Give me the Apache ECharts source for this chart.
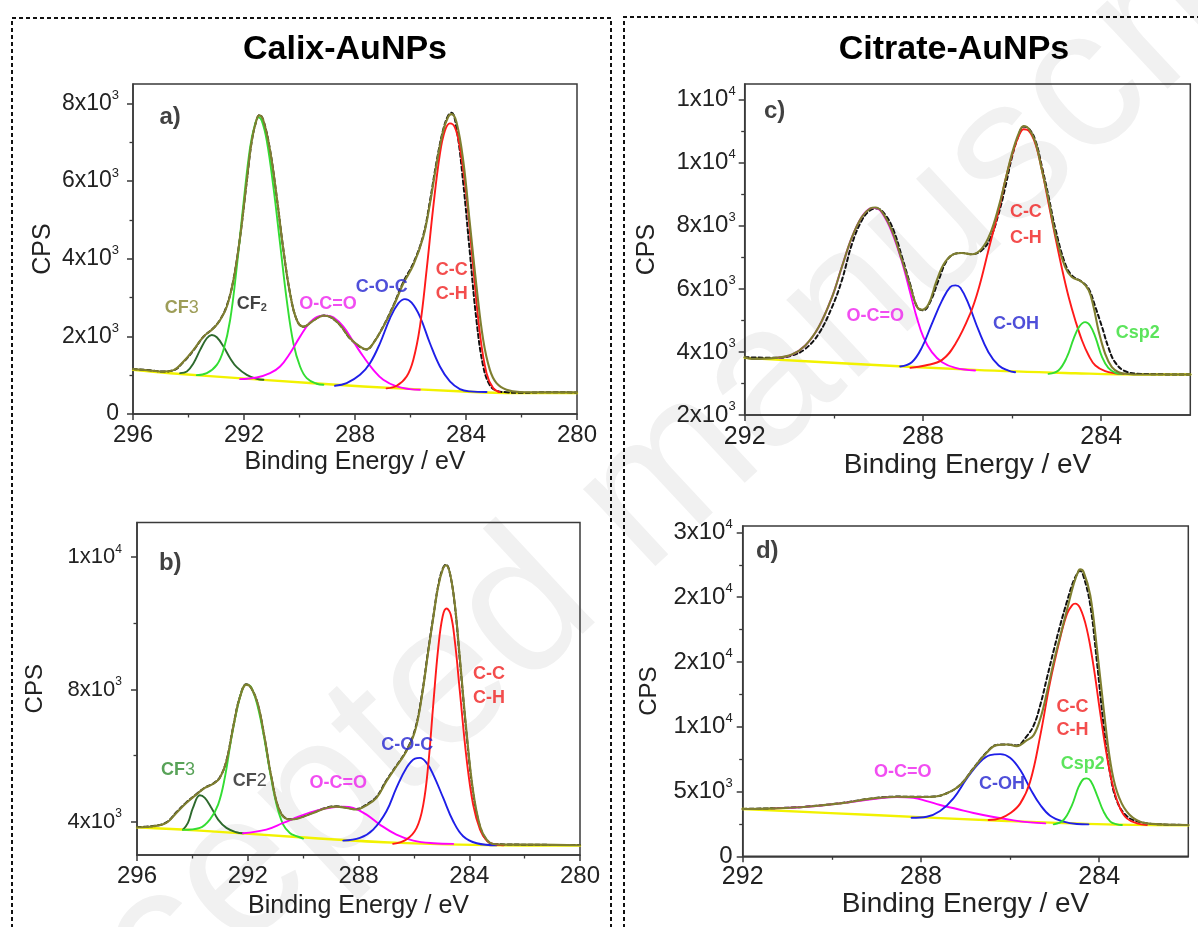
<!DOCTYPE html>
<html><head><meta charset="utf-8">
<script src="https://cdn.jsdelivr.net/npm/echarts@6/dist/echarts.min.js"></script>
<style>html,body{margin:0;padding:0;background:#fff}#c{width:1198px;height:927px}</style>
</head><body><div id="c"></div>
<script>
// ================= DATA =================
// ---- Panel a) Calix-AuNPs ----
const aBackground = [[296,1140],[294.66,1050],[291.3,880],[287.7,710],[284.1,580],[282.3,540],[280,540]];
const aEnvelope = [[296,1155],[295.38,1121],[294.9,1095],[294.54,1130],[294.18,1352],[293.82,1651],[293.46,1993],[293.1,2207],[292.86,2421],[292.62,2763],[292.38,3448],[292.14,4560],[291.9,6014],[291.72,7041],[291.54,7597],[291.44,7691],[291.3,7554],[291.06,6784],[290.82,5586],[290.58,4218],[290.34,3105],[290.1,2421],[289.86,2250],[289.5,2404],[289.14,2532],[288.9,2507],[288.54,2293],[288.18,1951],[287.82,1737],[287.58,1668],[287.34,1822],[286.98,2250],[286.62,2763],[286.26,3362],[285.9,3833],[285.54,4560],[285.3,5415],[285.06,6442],[284.82,7297],[284.64,7657],[284.52,7725],[284.34,7511],[284.1,6527],[283.86,4902],[283.62,3277],[283.38,1908],[283.14,1138],[282.9,796],[282.54,625],[282.06,565],[281.1,556],[280,556]];
const aRaw = [[296,1160],[295.38,1125],[294.9,1095],[294.54,1125],[294.18,1340],[293.82,1640],[293.46,1990],[293.1,2215],[292.86,2430],[292.62,2790],[292.38,3460],[292.14,4570],[291.9,6000],[291.72,7030],[291.54,7590],[291.44,7700],[291.3,7560],[291.06,6790],[290.82,5580],[290.58,4230],[290.34,3110],[290.1,2430],[289.86,2245],[289.5,2410],[289.14,2540],[288.9,2500],[288.54,2290],[288.18,1945],[287.82,1730],[287.58,1660],[287.34,1830],[286.98,2260],[286.62,2790],[286.26,3400],[285.9,3880],[285.54,4600],[285.3,5480],[285.06,6500],[284.82,7330],[284.64,7690],[284.52,7760],[284.34,7350],[284.1,5950],[283.86,4150],[283.62,2400],[283.38,1230],[283.14,740],[282.9,600],[282.54,560],[282.06,545],[281.1,560],[280,555]];
const aCF3 = [[294.3,1052],[294.06,1095],[293.82,1309],[293.58,1651],[293.34,1951],[293.16,2036],[292.98,1976],[292.74,1737],[292.5,1437],[292.26,1206],[291.9,1009],[291.54,907],[291.3,881]];
const aCF2 = [[293.7,1001],[293.34,1052],[292.98,1266],[292.74,1651],[292.5,2421],[292.26,3790],[292.02,5415],[291.78,6870],[291.6,7469],[291.48,7640],[291.36,7554],[291.18,7041],[290.94,5843],[290.7,4389],[290.46,2934],[290.22,1822],[289.98,1223],[289.74,924],[289.38,779],[289.14,753]];
const aOCO = [[292.14,898],[291.54,941],[291.06,1052],[290.7,1223],[290.34,1566],[289.98,1993],[289.62,2361],[289.26,2524],[289.02,2532],[288.78,2490],[288.42,2250],[288.06,1865],[287.7,1480],[287.34,1138],[286.98,881],[286.5,710],[286.02,642],[285.66,625]];
const aCOC = [[288.72,727],[288.3,796],[287.82,1009],[287.46,1309],[287.1,1822],[286.74,2464],[286.44,2849],[286.2,2960],[285.96,2866],[285.66,2507],[285.3,1822],[284.94,1223],[284.58,838],[284.22,642],[283.86,582],[283.26,565]];
const aCC = [[286.86,659],[286.5,727],[286.14,967],[285.9,1394],[285.66,2250],[285.42,3704],[285.18,5330],[284.94,6699],[284.76,7297],[284.58,7486],[284.4,7383],[284.22,6870],[283.98,5586],[283.74,3790],[283.5,2079],[283.26,1052],[283.02,667],[282.78,565]];
const aXTicks = [296,292,288,284,280];
const aXTickLabels = ['296','292','288','284','280'];
const aXMinor = [294,290,286,282];
const aYTicks = [0,2000,4000,6000,8000];
const aYTickLabels = ['0','2x10{s|3}','4x10{s|3}','6x10{s|3}','8x10{s|3}'];
const aYMinor = [1000,3000,5000,7000];
const aNotes = [[294.66,7639,'a)'],[294.24,2728,'CF{sub|3}'],[291.72,2831,'CF{sub2|2}'],[288.97,2839,'O-C=O'],[287.04,3267,'C-O-C'],[284.51,3711,'C-C'],[284.51,3095,'C-H']];

// ---- Panel b) Calix-AuNPs ----
const bBackground = [[296,3839],[293.73,3738],[290.12,3537],[286.51,3365],[282.89,3295],[280,3285]];
const bEnvelope = [[296,3839],[295.42,3869],[294.94,3970],[294.58,4272],[294.22,4574],[293.86,4826],[293.55,5028],[293.25,5149],[293.01,5330],[292.77,5834],[292.53,6841],[292.29,7748],[292.05,8151],[291.87,8050],[291.63,7547],[291.39,6539],[291.14,5330],[290.84,4322],[290.48,4071],[290.12,4121],[289.64,4272],[289.16,4423],[288.8,4463],[288.43,4423],[288.07,4373],[287.71,4504],[287.35,4725],[286.99,5229],[286.63,5683],[286.27,6136],[285.96,6741],[285.72,7748],[285.48,9159],[285.3,10167],[285.12,11124],[284.96,11628],[284.84,11759],[284.7,11527],[284.52,10570],[284.34,8957],[284.1,6741],[283.86,4927],[283.61,3869],[283.37,3466],[283.13,3335],[282.65,3315],[281.69,3315],[280,3295]];
const bRaw = [[296,3845],[295.42,3875],[294.94,3985],[294.58,4290],[294.22,4590],[293.86,4835],[293.55,5035],[293.25,5160],[293.01,5345],[292.77,5850],[292.53,6860],[292.29,7760],[292.05,8160],[291.87,8040],[291.63,7530],[291.39,6520],[291.14,5320],[290.84,4330],[290.48,4080],[290.12,4130],[289.64,4280],[289.16,4430],[288.8,4470],[288.43,4430],[288.07,4390],[287.71,4530],[287.35,4760],[286.99,5260],[286.63,5700],[286.27,6160],[285.96,6790],[285.72,7800],[285.48,9200],[285.3,10200],[285.12,11150],[284.96,11650],[284.84,11780],[284.7,11520],[284.52,10540],[284.34,8900],[284.1,6680],[283.86,4880],[283.61,3850],[283.37,3450],[283.13,3330],[282.65,3320],[281.69,3310],[280,3300]];
const bCF3 = [[294.34,3768],[294.16,3970],[293.98,4423],[293.73,4806],[293.55,4725],[293.31,4423],[293.07,4071],[292.77,3819],[292.41,3688],[292.17,3657]];
const bCF2 = [[294.34,3758],[293.73,3819],[293.37,4071],[293.07,4524],[292.83,5330],[292.59,6539],[292.35,7547],[292.17,8050],[292.05,8151],[291.9,8101],[291.69,7647],[291.45,6741],[291.2,5532],[290.96,4524],[290.72,3919],[290.48,3667],[290.24,3567],[290,3496]];
const bOCO = [[292.17,3657],[291.33,3768],[290.72,3970],[290.12,4171],[289.52,4343],[288.92,4443],[288.55,4463],[288.19,4423],[287.71,4222],[287.23,3919],[286.63,3617],[286.02,3436],[285.3,3355],[284.58,3335]];
const bCOC = [[288.55,3436],[287.95,3516],[287.47,3768],[286.99,4322],[286.63,5028],[286.27,5632],[285.96,5914],[285.78,5935],[285.54,5783],[285.3,5431],[284.94,4725],[284.58,4020],[284.22,3567],[283.73,3355],[283.01,3295]];
const bCC = [[286.75,3335],[286.27,3466],[285.9,3819],[285.66,4524],[285.48,5733],[285.3,7547],[285.12,9260],[284.96,10217],[284.82,10449],[284.67,10267],[284.52,9461],[284.34,7950],[284.1,5935],[283.86,4524],[283.61,3768],[283.37,3436],[283.13,3335],[282.77,3295]];
const bXTicks = [296,292,288,284,280];
const bXTickLabels = ['296','292','288','284','280'];
const bXMinor = [294,290,286,282];
const bYTicks = [4000,8000,12000];
const bYTickLabels = ['4x10{s|3}','8x10{s|3}','1x10{s|4}'];
const bYMinor = [6000,10000];
const bNotes = [[294.8,11809,'b)'],[294.52,5562,'CF{sub|3}'],[291.93,5229,'CF{sub|2}'],[288.73,5179,'O-C=O'],[286.24,6317,'C-O-C'],[283.29,8484,'C-C'],[283.29,7758,'C-H']];

// ---- Panel c) Citrate-AuNPs ----
const cBackground = [[292,3813],[289.82,3643],[286.83,3431],[284.58,3325],[283.09,3283],[282,3283]];
const cEnvelope = [[292,3834],[291.84,3781],[291.31,3813],[290.94,3919],[290.64,4205],[290.34,4788],[290.04,5742],[289.82,6696],[289.59,7650],[289.37,8286],[289.18,8551],[289.07,8583],[288.92,8445],[288.7,7862],[288.47,6908],[288.28,6060],[288.13,5424],[288.02,5339],[287.87,5530],[287.69,6272],[287.5,6855],[287.27,7120],[287.13,7141],[286.9,7099],[286.68,7279],[286.49,7756],[286.3,8604],[286.15,9452],[286,10300],[285.85,10936],[285.74,11169],[285.63,11095],[285.48,10671],[285.33,9770],[285.18,8816],[285.03,7756],[284.81,6696],[284.66,6378],[284.43,6219],[284.28,5954],[284.17,5424],[284.06,4682],[283.91,3940],[283.76,3516],[283.61,3357],[283.46,3310],[283.09,3283],[282,3283]];
const cRaw = [[292,3834],[291.31,3813],[290.94,3887],[290.64,4099],[290.34,4576],[290.04,5424],[289.82,6272],[289.59,7438],[289.37,8180],[289.18,8498],[289.03,8551],[288.84,8339],[288.66,7862],[288.47,7014],[288.28,6113],[288.13,5424],[287.99,5318],[287.84,5583],[287.65,6272],[287.46,6908],[287.27,7120],[287.13,7141],[286.9,7099],[286.68,7226],[286.49,7597],[286.3,8392],[286.15,9240],[286,10194],[285.85,10883],[285.74,11148],[285.63,11095],[285.48,10724],[285.33,9876],[285.18,8922],[285.03,7915],[284.81,6802],[284.66,6431],[284.43,6219],[284.28,6007],[284.13,5424],[283.98,4788],[283.84,4152],[283.69,3675],[283.46,3389],[283.09,3304],[282,3283]];
const cOCO = [[291.31,3813],[290.94,3919],[290.64,4205],[290.34,4788],[290.04,5742],[289.82,6696],[289.59,7650],[289.37,8286],[289.18,8551],[289.07,8572],[288.92,8413],[288.7,7809],[288.47,6855],[288.28,5848],[288.13,5053],[287.99,4470],[287.8,3993],[287.57,3675],[287.27,3495],[286.83,3410]];
const cCOH = [[288.51,3537],[288.25,3675],[288.02,4152],[287.8,4894],[287.57,5636],[287.39,6060],[287.27,6113],[287.16,6039],[286.98,5530],[286.75,4682],[286.53,3993],[286.3,3569],[286.08,3410],[285.93,3357]];
const cCC = [[288.28,3495],[287.95,3569],[287.57,3749],[287.27,4258],[286.94,5212],[286.75,6007],[286.53,7226],[286.3,8498],[286.15,9452],[286,10247],[285.85,10851],[285.74,11063],[285.63,11021],[285.48,10618],[285.33,9770],[285.18,8710],[285.03,7650],[284.88,6643],[284.73,5742],[284.58,5000],[284.43,4364],[284.28,3887],[284.13,3569],[283.91,3389],[283.69,3325],[283.5,3304]];
const cCsp2 = [[285.18,3304],[284.96,3410],[284.77,3834],[284.62,4417],[284.49,4809],[284.36,4947],[284.25,4841],[284.13,4470],[283.98,3834],[283.84,3495],[283.69,3346],[283.54,3304]];
const cXTicks = [292,288,284];
const cXTickLabels = ['292','288','284'];
const cXMinor = [290,286];
const cYTicks = [2000,4000,6000,8000,10000,12000];
const cYTickLabels = ['2x10{s|3}','4x10{s|3}','6x10{s|3}','8x10{s|3}','1x10{s|4}','1x10{s|4}'];
const cYMinor = [3000,5000,7000,9000,11000];
const cNotes = [[291.33,11625,'c)'],[289.07,5138,'O-C=O'],[285.91,4873,'C-OH'],[283.18,4608,'Csp2'],[285.69,8424,'C-C'],[285.69,7629,'C-H']];

// ---- Panel d) Citrate-AuNPs ----
const dBackground = [[292,3649],[289.07,3187],[286.07,2724],[283.83,2467],[282,2400]];
const dEnvelope = [[292,3649],[291.31,3701],[290.56,3829],[289.81,4086],[289.07,4472],[288.54,4600],[288.09,4575],[287.72,4600],[287.42,4857],[287.12,5500],[286.82,6785],[286.52,8018],[286.3,8584],[286.07,8635],[285.85,8507],[285.62,8969],[285.47,9355],[285.32,10640],[285.17,12696],[285.02,15009],[284.87,17065],[284.72,19069],[284.57,21048],[284.46,22076],[284.43,22153],[284.35,21948],[284.2,20149],[284.05,16037],[283.9,11411],[283.75,7299],[283.6,4986],[283.38,3444],[283.08,2673],[282.63,2467],[282,2416]];
const dRaw = [[292,3660],[291.31,3710],[290.56,3840],[289.81,4100],[289.07,4480],[288.54,4610],[288.09,4590],[287.72,4610],[287.42,4870],[287.12,5520],[286.82,6810],[286.52,8050],[286.3,8600],[286.07,8640],[285.85,8560],[285.62,9300],[285.47,10100],[285.32,11700],[285.17,13800],[285.02,15900],[284.87,17900],[284.72,19700],[284.57,21300],[284.46,22000],[284.43,22050],[284.35,21600],[284.2,19400],[284.05,15000],[283.9,10100],[283.75,6300],[283.6,4250],[283.38,3100],[283.08,2640],[282.63,2470],[282,2420]];
const dOCO = [[291.31,3701],[290.56,3829],[289.81,4086],[289.07,4421],[288.54,4575],[288.17,4523],[287.87,4266],[287.57,3958],[287.19,3649],[286.82,3341],[286.37,3033],[285.92,2776],[285.55,2621],[285.21,2544]];
const dCOH = [[288.21,2981],[287.87,3058],[287.57,3495],[287.27,4472],[286.97,6014],[286.67,7299],[286.45,7813],[286.22,7890],[286,7607],[285.77,6656],[285.55,5243],[285.32,3958],[285.1,3135],[284.8,2673],[284.5,2493],[284.24,2467]];
const dCC = [[286.48,2801],[286.22,2930],[286,3315],[285.77,4086],[285.55,5757],[285.32,9355],[285.1,13467],[284.87,16936],[284.72,18735],[284.61,19378],[284.54,19507],[284.43,19172],[284.28,17579],[284.13,14752],[283.98,11154],[283.83,7813],[283.68,5243],[283.53,3701],[283.38,2930],[283.15,2544],[282.93,2416]];
const dCsp2 = [[285.02,2467],[284.8,2801],[284.61,3958],[284.46,5371],[284.35,5962],[284.28,6014],[284.19,5808],[284.05,4729],[283.9,3444],[283.75,2673],[283.6,2467],[283.49,2416]];
const dXTicks = [292,288,284];
const dXTickLabels = ['292','288','284'];
const dXMinor = [290,286];
const dYTicks = [0,5000,10000,15000,20000,25000];
const dYTickLabels = ['0','5x10{s|3}','1x10{s|4}','2x10{s|4}','2x10{s|4}','3x10{s|4}'];
const dYMinor = [2500,7500,12500,17500,22500];
const dNotes = [[291.45,23567,'d)'],[288.41,6476,'O-C=O'],[286.18,5603,'C-OH'],[284.37,7093,'Csp2'],[284.6,11514,'C-C'],[284.6,9715,'C-H']];

// ================= STYLES / LAYOUT =================
const FONT = '"Liberation Sans", Arial, sans-serif';
const C = {
  bg:'#f2f200', raw:'#111111', env:'#7f7f30', cf3:'#2d6a2d', cf2:'#33dd33', oco:'#ff00ff',
  blue:'#1f1fe8', red:'#ff1a1a', csp2:'#33dd33'
};
const noteColors = {
  a:['#111','#85852e','#111','#ee22ee','#2323d0','#f02020','#f02020'],
  b:['#111','#2e8b2e','#222','#ee22ee','#2323d0','#f02020','#f02020'],
  c:['#111','#ee22ee','#2323d0','#33dd33','#f02020','#f02020'],
  d:['#111','#ee22ee','#2323d0','#33dd33','#f02020','#f02020']
};

const panels = [
  {key:'a', grid:{left:133,top:84,width:444,height:330}, x:[280,296], y:[0,8500],
   xT:aXTicks, xL:aXTickLabels, xM:aXMinor, yT:aYTicks, yL:aYTickLabels, yM:aYMinor,
   xFont:24, yFont:23, nameFont:25, cpsFont:25, xGap:36, yGap:77, xMargin:9, yMargin:14,
   curves:[[aBackground,C.bg,2.4],[aRaw,C.raw,2,'dash'],[aCF3,C.cf3,1.9],[aCF2,C.cf2,1.9],[aOCO,C.oco,1.9],[aCOC,C.blue,1.9],[aCC,C.red,1.9],[aEnvelope,C.env,2.1]],
   notes:aNotes},
  {key:'b', grid:{left:137,top:522.5,width:443,height:332.5}, x:[280,296], y:[3000,13050],
   xT:bXTicks, xL:bXTickLabels, xM:bXMinor, yT:bYTicks, yL:bYTickLabels, yM:bYMinor,
   xFont:24, yFont:22, nameFont:25, cpsFont:24, xGap:39, yGap:90, xMargin:9, yMargin:15,
   curves:[[bBackground,C.bg,2.4],[bRaw,C.raw,2,'dash'],[bCF3,C.cf3,1.9],[bCF2,C.cf2,1.9],[bOCO,C.oco,1.9],[bCOC,C.blue,1.9],[bCC,C.red,1.9],[bEnvelope,C.env,2.1]],
   notes:bNotes},
  {key:'c', grid:{left:744.7,top:84,width:445.6,height:331}, x:[282,292], y:[2000,12500],
   xT:cXTicks, xL:cXTickLabels, xM:cXMinor, yT:cYTicks, yL:cYTickLabels, yM:cYMinor,
   xFont:25, yFont:24, nameFont:28, cpsFont:25, xGap:36, yGap:85, xMargin:10, yMargin:9,
   curves:[[cBackground,C.bg,2.4],[cRaw,C.raw,2,'dash'],[cOCO,C.oco,1.9],[cCOH,C.blue,1.9],[cCC,C.red,1.9],[cCsp2,C.csp2,1.9],[cEnvelope,C.env,2.1]],
   notes:cNotes},
  {key:'d', grid:{left:742.7,top:526,width:445.6,height:330.3}, x:[282,292], y:[0,25500],
   xT:dXTicks, xL:dXTickLabels, xM:dXMinor, yT:dYTicks, yL:dYTickLabels, yM:dYMinor,
   xFont:25, yFont:24, nameFont:28, cpsFont:24, xGap:33, yGap:81, xMargin:8, yMargin:10,
   curves:[[dBackground,C.bg,2.4],[dRaw,C.raw,2,'dash'],[dOCO,C.oco,1.9],[dCOH,C.blue,1.9],[dCC,C.red,1.9],[dCsp2,C.csp2,1.9],[dEnvelope,C.env,2.1]],
   notes:dNotes}
];

const axisColor = '#3a3a3a';
const grids = [], xAxes = [], yAxes = [], series = [];
panels.forEach((p, i) => {
  grids.push(Object.assign({show:true, borderColor:axisColor, borderWidth:1.5, backgroundColor:'transparent'}, p.grid));
  const lbl = (ticks, labels) => (v) => { const k = ticks.indexOf(v); return k >= 0 ? labels[k] : ''; };
  xAxes.push({type:'value', gridIndex:i, min:p.x[0], max:p.x[1], inverse:true, position:'bottom',
    axisLine:{show:true, onZero:false, lineStyle:{color:axisColor, width:1.5}},
    axisTick:{show:true, inside:false, length:6, customValues:p.xT, lineStyle:{color:axisColor, width:1.5}},
    axisLabel:{customValues:p.xT, formatter:lbl(p.xT, p.xL), fontSize:p.xFont, fontFamily:FONT, color:'#222', margin:p.xMargin},
    splitLine:{show:false},
    name:'Binding Energy / eV', nameLocation:'middle', nameGap:p.xGap,
    nameTextStyle:{fontSize:p.nameFont, fontFamily:FONT, color:'#222'}});
  xAxes.push({type:'value', gridIndex:i, min:p.x[0], max:p.x[1], inverse:true, position:'bottom', offset:0,
    axisLine:{show:false, onZero:false}, axisLabel:{show:false}, splitLine:{show:false},
    axisTick:{show:true, inside:false, length:3.5, customValues:p.xM, lineStyle:{color:axisColor, width:1.3}}});
  yAxes.push({type:'value', gridIndex:i, min:p.y[0], max:p.y[1], position:'left',
    axisLine:{show:true, onZero:false, lineStyle:{color:axisColor, width:1.5}},
    axisTick:{show:true, inside:false, length:6, customValues:p.yT, lineStyle:{color:axisColor, width:1.5}},
    axisLabel:{customValues:p.yT, formatter:lbl(p.yT, p.yL), fontSize:p.yFont, fontFamily:FONT, color:'#222', margin:p.yMargin,
      lineHeight:p.yFont+6, rich:{s:{fontSize:Math.round(p.yFont*0.55), fontFamily:FONT, color:'#222', verticalAlign:'top', lineHeight:Math.round(p.yFont*0.55)}}},
    splitLine:{show:false},
    name:'CPS', nameLocation:'middle', nameGap:p.yGap, nameRotate:90,
    nameTextStyle:{fontSize:p.cpsFont, fontFamily:FONT, color:'#222'}});
  yAxes.push({type:'value', gridIndex:i, min:p.y[0], max:p.y[1], position:'left', offset:0,
    axisLine:{show:false, onZero:false}, axisLabel:{show:false}, splitLine:{show:false},
    axisTick:{show:true, inside:false, length:3.5, customValues:p.yM, lineStyle:{color:axisColor, width:1.3}}});

  p.curves.forEach((cv, k) => {
    series.push({type:'line', xAxisIndex:i*2, yAxisIndex:i*2, data:cv[0], smooth:0.4,
      showSymbol:false, symbol:'none', silent:true, animation:false, z:2+k,
      lineStyle:{color:cv[1], width:cv[2], type: cv[3] === 'dash' ? [4,3] : 'solid', join:'round', cap:'round'}});
  });

  const cols = noteColors[p.key];
  series.push({type:'scatter', xAxisIndex:i*2, yAxisIndex:i*2, symbolSize:1, silent:true, animation:false, z:20,
    itemStyle:{color:'rgba(0,0,0,0)'},
    data:p.notes.map((n, k) => ({value:[n[0], n[1]], label:{show:true, position:'inside', formatter:() => n[2],
      color:cols[k], fontSize:(k === 0 ? 24 : 18), fontWeight:'bold', fontFamily:FONT,
      rich:{sub:{fontSize:18, fontWeight:'normal', verticalAlign:'bottom', lineHeight:14, fontFamily:FONT},
            sub2:{fontSize:11, fontWeight:'bold', verticalAlign:'bottom', lineHeight:10, fontFamily:FONT}}}}))});
});

const option = {
  animation:false,
  backgroundColor:'#ffffff',
  grid:grids, xAxis:xAxes, yAxis:yAxes, series:series,
  graphic:[
    {type:'text', x:640, y:505, rotation:0.75, z:-5, silent:true,
     style:{text:'Accepted manuscript', font:'200px ' + FONT, fill:'#f1f1f1', align:'center', verticalAlign:'middle', textAlign:'center', textVerticalAlign:'middle'}},
    {type:'polyline', z:1, silent:true, shape:{points:[[12,935],[12,18],[611,18],[611,935]]},
     style:{stroke:'#111', lineWidth:2, lineDash:[4,3], fill:null}},
    {type:'polyline', z:1, silent:true, shape:{points:[[624,935],[624,17],[1205,17]]},
     style:{stroke:'#111', lineWidth:2, lineDash:[4,3], fill:null}},
    {type:'text', x:345, y:50, z:30, silent:true,
     style:{text:'Calix-AuNPs', font:'bold 34px ' + FONT, fill:'#000', align:'center', verticalAlign:'middle', textAlign:'center', textVerticalAlign:'middle'}},
    {type:'text', x:954, y:50, z:30, silent:true,
     style:{text:'Citrate-AuNPs', font:'bold 34px ' + FONT, fill:'#000', align:'center', verticalAlign:'middle', textAlign:'center', textVerticalAlign:'middle'}}
  ]
};
const chart = echarts.init(document.getElementById('c'), null, {renderer:'canvas'});
chart.setOption(option);
</script>
</body></html>
